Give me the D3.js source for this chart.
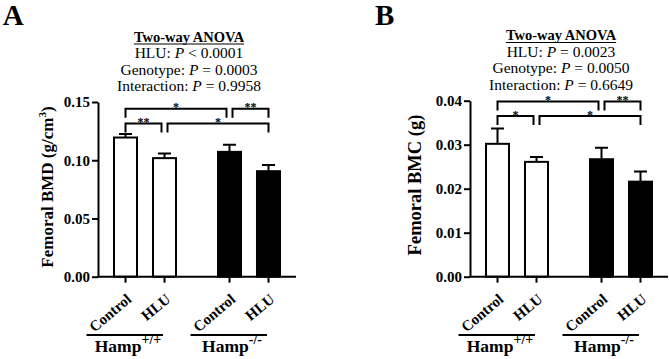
<!DOCTYPE html>
<html>
<head>
<meta charset="utf-8" />
<title>Femoral BMD and BMC</title>
<script src="https://cdn.jsdelivr.net/npm/d3@7"></script>
<style>
body { margin: 0; background: #fff; }
svg text { font-family: "Liberation Serif", "Times New Roman", serif; fill: #000; }
</style>
</head>
<body>
<svg id="chart" width="669" height="359"></svg>
<script>
// groups on the x axis
var genotypes = ["+/+", "-/-"];
var treatments = ["Control", "HLU"];

// panel A: femoral BMD (g/cm3), mean and SEM per bar
var bmdMean = [0.1195, 0.1018, 0.1072, 0.0906];
var bmdSem = [0.0030, 0.0040, 0.0060, 0.0054];
var bmdTicks = [0, 0.05, 0.10, 0.15];

// panel B: femoral BMC (g)
var bmcMean = [0.0302, 0.0261, 0.0267, 0.0216];
var bmcSem = [0.0035, 0.0011, 0.0026, 0.0023];
var bmcTicks = [0, 0.01, 0.02, 0.03, 0.04];

// two-way ANOVA results
var bmdAnova = [["HLU: ", "< 0.0001"], ["Genotype: ", "= 0.0003"], ["Interaction: ", "= 0.9958"]];
var bmcAnova = [["HLU: ", "= 0.0023"], ["Genotype: ", "= 0.0050"], ["Interaction: ", "= 0.6649"]];

// post-hoc comparisons: bar pair, bracket height (data units), stars
var bmdPairs = [[0, 2], [2, 3], [0, 1], [1, 3]];
var bmdPairLevel = [0.1443, 0.1443, 0.1315, 0.1315];
var bmdStars = ["*", "**", "**", "*"];
var bmcPairs = [[0, 2], [2, 3], [0, 1], [1, 3]];
var bmcPairLevel = [0.0398, 0.0398, 0.0365, 0.0365];
var bmcStars = ["*", "**", "*", "*"];

var svg = d3.select("#chart");
var axisW = 198, y0 = 276.7;

function drawPanel(p) {
    var g = svg.append("g").attr("transform", "translate(" + p.left + ",0)");

    var rows = p.mean.map(function(m, i) {
        return {g: genotypes[Math.floor(i / 2)], t: treatments[i % 2], mean: m, sem: p.sem[i]};
    });

    var xg = d3.scaleBand().domain(genotypes).range([0, axisW])
        .paddingInner(0.25).paddingOuter(0.077);
    var xt = d3.scaleBand().domain(treatments).range([0, xg.bandwidth()])
        .paddingInner(0.41).paddingOuter(0.205);
    var cx = function(d) { return xg(d.g) + xt(d.t) + xt.bandwidth() / 2; };

    var y = d3.scaleLinear().domain([0, p.ticks[p.ticks.length - 1]]).range([y0, p.top]);

    // panel letter
    svg.append("text")
        .attr("x", p.letterX).attr("y", 25)
        .attr("font-size", 29).attr("font-weight", "bold")
        .text(p.letter);

    // bars
    g.selectAll(".bar")
        .data(rows)
        .enter().append("rect")
        .attr("class", "bar")
        .attr("x", function(d) { return cx(d) - xt.bandwidth() / 2; })
        .attr("width", xt.bandwidth())
        .attr("y", function(d) { return y(d.mean); })
        .attr("height", function(d) { return y(0) - y(d.mean); })
        .style("fill", function(d) { return d.g == "+/+" ? "#fff" : "#000"; })
        .style("stroke", "#000")
        .style("stroke-width", 2);

    // error bars (upper only)
    g.selectAll(".err")
        .data(rows)
        .enter().append("path")
        .attr("class", "err")
        .attr("d", function(d) {
            var x = cx(d), yt = y(d.mean + d.sem);
            return "M" + x + "," + y(d.mean) + "V" + yt + "M" + (x - 6.5) + "," + yt + "H" + (x + 6.5);
        })
        .style("fill", "none")
        .style("stroke", "#000")
        .style("stroke-width", 2);

    // y axis
    var yAxis = d3.axisLeft(y)
        .tickValues(p.ticks)
        .tickFormat(d3.format(".2f"))
        .tickSize(6)
        .tickSizeOuter(0)
        .tickPadding(2);
    var ya = g.append("g").call(yAxis);
    ya.selectAll("path, line").style("stroke", "#000").style("stroke-width", 2);
    ya.selectAll("text")
        .attr("font-family", null)
        .attr("font-size", 15)
        .attr("font-weight", "bold");

    // x axis line with ticks at bar centres
    g.append("line")
        .attr("x1", 0).attr("x2", axisW)
        .attr("y1", y0).attr("y2", y0)
        .style("stroke", "#000").style("stroke-width", 2);
    g.selectAll(".xtick")
        .data(rows)
        .enter().append("line")
        .attr("x1", cx).attr("x2", cx)
        .attr("y1", y0).attr("y2", y0 + 6)
        .style("stroke", "#000").style("stroke-width", 2);

    g.selectAll(".xlab")
        .data(rows)
        .enter().append("text")
        .attr("transform", function(d) { return "translate(" + (cx(d) + 7) + "," + (y0 + 24) + ") rotate(-40)"; })
        .attr("text-anchor", "end")
        .attr("font-size", 15)
        .attr("font-weight", "bold")
        .text(function(d) { return d.t; });

    // genotype group labels
    genotypes.forEach(function(gt) {
        var c = xg(gt) + xg.bandwidth() / 2;
        g.append("line")
            .attr("x1", c - 58.5).attr("x2", c + 18)
            .attr("y1", 335).attr("y2", 335)
            .style("stroke", "#000").style("stroke-width", 2);
        var t = g.append("text")
            .attr("x", c - 17).attr("y", 352)
            .attr("text-anchor", "middle")
            .attr("font-weight", "bold")
            .attr("font-size", 17.5);
        t.append("tspan").text("Hamp");
        t.append("tspan").attr("font-size", 14).attr("dy", -8).text(gt);
    });

    // y axis label
    var yl = g.append("text")
        .attr("transform", "translate(" + (-p.labelOff) + "," + p.labelMid + ") rotate(-90)")
        .attr("text-anchor", "middle")
        .attr("font-size", p.labelSize)
        .attr("font-weight", "bold");
    yl.append("tspan").text(p.label);
    if (p.labelSup) {
        yl.append("tspan").attr("font-size", p.labelSize * 0.65).attr("dy", -7).text(p.labelSup);
        yl.append("tspan").attr("dy", 7).text(")");
    }

    // ANOVA title block
    var tx = 91, ty = p.titleY;
    var head = g.append("text")
        .attr("x", tx).attr("y", ty)
        .attr("text-anchor", "middle")
        .attr("font-size", 14.5)
        .attr("font-weight", "bold")
        .text("Two-way ANOVA");
    var hw = head.node().getComputedTextLength();
    g.append("line")
        .attr("x1", tx - hw / 2).attr("x2", tx + hw / 2)
        .attr("y1", ty + 2.5).attr("y2", ty + 2.5)
        .style("stroke", "#000").style("stroke-width", 1.2);
    p.anova.forEach(function(a, i) {
        var t = g.append("text")
            .attr("x", tx).attr("y", ty + 16.5 * (i + 1))
            .attr("text-anchor", "middle")
            .attr("font-size", 15.5);
        t.append("tspan").text(a[0]);
        t.append("tspan").attr("font-style", "italic").text("P");
        t.append("tspan").text(" " + a[1]);
    });

    // significance brackets
    var centres = rows.map(cx);
    p.pairs.forEach(function(pr, i) {
        var lvl = p.pairLevel[i];
        var xa = centres[pr[0]], xb = centres[pr[1]];
        // leave a small gap where two brackets meet at the same height
        p.pairs.forEach(function(o, j) {
            if (j == i || p.pairLevel[j] != lvl) return;
            if (o[0] == pr[1]) xb -= 3;
            if (o[1] == pr[0]) xa += 3;
        });
        var by = y(lvl);
        g.append("path")
            .attr("d", "M" + xa + "," + (by + 9) + "V" + by + "H" + xb + "V" + (by + 9))
            .style("fill", "none")
            .style("stroke", "#000")
            .style("stroke-width", 2);
        g.append("text")
            .attr("x", (xa + xb) / 2).attr("y", by + 2.5)
            .attr("text-anchor", "middle")
            .attr("font-size", 12)
            .attr("font-weight", "bold")
            .style("fill", "#000")
            .text(p.stars[i]);
    });
}

drawPanel({
    left: 98, top: 102, letter: "A", letterX: 2.7, titleY: 41.5,
    mean: bmdMean, sem: bmdSem, ticks: bmdTicks, anova: bmdAnova,
    pairs: bmdPairs, pairLevel: bmdPairLevel, stars: bmdStars,
    label: "Femoral BMD (g/cm", labelSup: "3", labelSize: 17, labelOff: 45.5, labelMid: 187
});
drawPanel({
    left: 470, top: 100.7, letter: "B", letterX: 375, titleY: 40,
    mean: bmcMean, sem: bmcSem, ticks: bmcTicks, anova: bmcAnova,
    pairs: bmcPairs, pairLevel: bmcPairLevel, stars: bmcStars,
    label: "Femoral BMC (g)", labelSup: null, labelSize: 18.5, labelOff: 49, labelMid: 185
});
</script>
</body>
</html>
